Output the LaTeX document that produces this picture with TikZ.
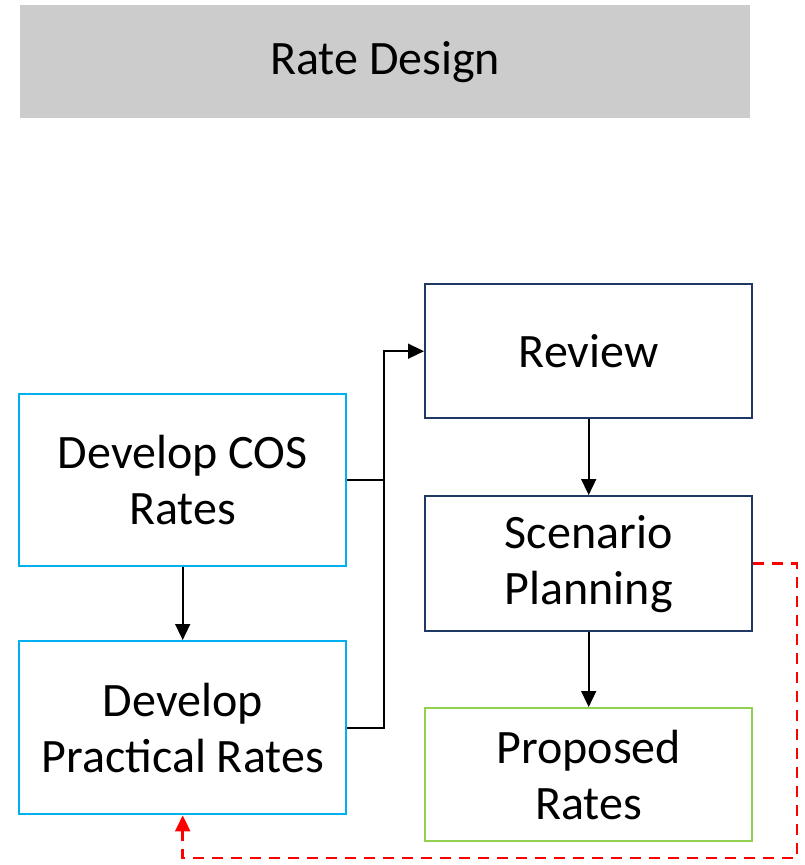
\documentclass[tikz,border=0pt]{standalone}
\usepackage{fontspec}
\setmainfont{Carlito}
\usetikzlibrary{arrows.meta}
\definecolor{cyanb}{HTML}{00B0F0}
\definecolor{navyb}{HTML}{1F3864}
\definecolor{greenb}{HTML}{92D050}
\definecolor{grayb}{HTML}{CCCCCC}
\tikzset{
  box/.style={draw, line width=2.4pt, minimum width=327pt, anchor=north west, align=center,
    font=\fontsize{48}{56}\selectfont, inner sep=0pt},
  cosbox/.style={box, draw=cyanb},
  navbox/.style={box, draw=navyb},
  grnbox/.style={box, draw=greenb},
  conn/.style={draw=black, line width=1.6pt},
  arr/.style={conn, -{Triangle[length=16pt,width=15pt]}},
  redarr/.style={draw=red, line width=2.5pt, dash pattern=on 11pt off 8pt, -{Triangle[length=16pt,width=15pt]}},
}
\begin{document}
\begin{tikzpicture}[x=1pt,y=-1pt]
\useasboundingbox (0,0) rectangle (805,865);
\node[fill=grayb, minimum width=730pt, minimum height=113pt, anchor=north west, inner sep=0pt,
  font=\fontsize{48}{56}\selectfont] (title) at (20,5) {Rate Design};
\node[cosbox, minimum height=172pt] (cos) at (18,393) {Develop COS\\Rates};
\node[cosbox, minimum height=173pt] (prac) at (18,640) {Develop\\Practical Rates};
\node[navbox, minimum height=134pt] (review) at (424,283) {Review};
\node[navbox, minimum height=135pt] (scen) at (424,495) {Scenario\\Planning};
\node[grnbox, minimum height=133pt] (prop) at (424,707) {Proposed\\Rates};
\coordinate (bus) at (384,0);
\coordinate (r1) at (797,858);
\draw[arr] (cos.south) -- (prac.north);
\draw[arr] (review.south) -- (scen.north);
\draw[arr] (scen.south) -- (prop.north);
\draw[conn] (cos.east) -- (cos.east -| bus);
\draw[arr] (prac.east) -- (prac.east -| bus) |- (review.west);
\draw[redarr] (scen.east) -| (r1) -| (prac.south);
\end{tikzpicture}
\end{document}
